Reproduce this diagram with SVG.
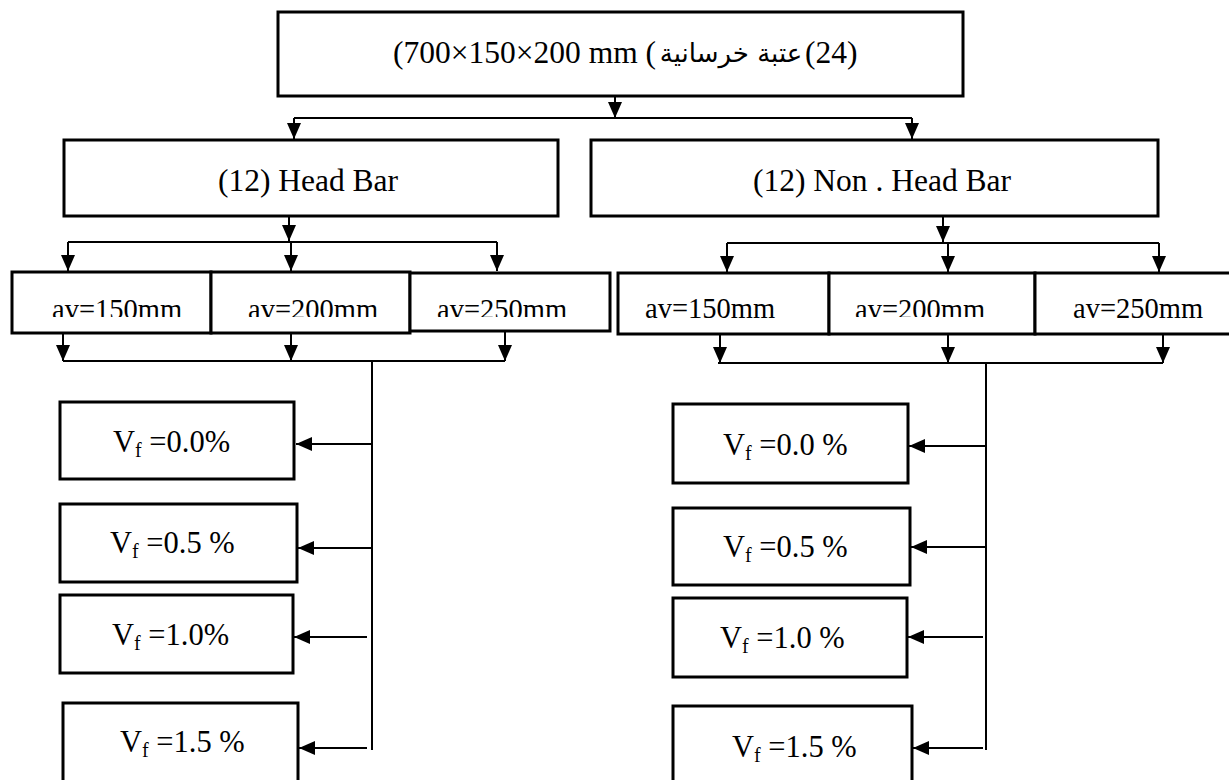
<svg xmlns="http://www.w3.org/2000/svg" width="1229" height="780" viewBox="0 0 1229 780">
<style>
.box{fill:#fff;stroke:#000;stroke-width:3}
.ln{fill:none;stroke:#000;stroke-width:2}
.arr{fill:none;stroke:#000;stroke-width:2;marker-end:url(#ah)}
.t{font-family:"Liberation Serif","Times New Roman",serif;fill:#000}
.big{font-size:31.5px}
.av{font-size:28.5px}
.vf{font-size:30.5px}
.sub{font-size:20px}
.ar{font-family:"DejaVu Sans",sans-serif;font-size:26px;fill:#000}
</style>
<defs>
<marker id="ah" markerUnits="userSpaceOnUse" markerWidth="16" markerHeight="14" viewBox="0 0 16 14" refX="16" refY="7" orient="auto">
<path d="M0,0 L16,7 L0,14 z" fill="#000"/>
</marker>
<clipPath id="clipav"><rect x="0" y="276" width="1229" height="41"/></clipPath>
</defs>
<rect width="1229" height="780" fill="#fff"/>

<g id="connectors">
<path class="arr" d="M615,96 V118"/>
<path class="ln" d="M294,118 H912"/>
<path class="arr" d="M294,118 V139"/>
<path class="arr" d="M912,118 V139"/>

<path class="arr" d="M289,216 V241"/>
<path class="ln" d="M68,242 H497"/>
<path class="arr" d="M68,242 V271"/>
<path class="arr" d="M291,242 V271"/>
<path class="arr" d="M497,242 V271"/>

<path class="arr" d="M943,216 V242"/>
<path class="ln" d="M727,243 H1159"/>
<path class="arr" d="M727,243 V272"/>
<path class="arr" d="M948,243 V272"/>
<path class="arr" d="M1159,243 V272"/>

<path class="arr" d="M63,334 V361"/>
<path class="arr" d="M291,334 V361"/>
<path class="arr" d="M505,332 V361"/>
<path class="ln" d="M63,361 H505"/>
<path class="ln" d="M372,361 V750"/>
<path class="arr" d="M372,444 H296"/>
<path class="arr" d="M372,548 H298"/>
<path class="arr" d="M367,637 H294"/>
<path class="arr" d="M367,748 H299"/>

<path class="arr" d="M720,335 V363"/>
<path class="arr" d="M948,335 V363"/>
<path class="arr" d="M1163,335 V363"/>
<path class="ln" d="M718,363 H1163"/>
<path class="ln" d="M986,363 V750"/>
<path class="arr" d="M986,446 H909"/>
<path class="arr" d="M986,547 H911"/>
<path class="arr" d="M983,637 H908"/>
<path class="arr" d="M983,748 H913"/>
</g>

<g id="top">
<rect class="box" x="278" y="12" width="685" height="84"/>
<text class="t big" x="393" y="63">(700×150×200 mm (</text>
<text class="ar" x="731" y="62" text-anchor="middle">عتبة خرسانية</text>
<text class="t big" x="805" y="63">(24)</text>
</g>

<g id="headbar">
<rect class="box" x="64" y="140" width="494" height="76"/>
<text class="t big" x="308" y="191" text-anchor="middle">(12) Head Bar</text>
</g>

<g id="nonheadbar">
<rect class="box" x="591" y="140" width="567" height="76"/>
<text class="t big" x="882" y="191" text-anchor="middle">(12) Non . Head Bar</text>
</g>

<g id="hb-av150">
<rect class="box" x="12" y="272" width="199" height="61"/>
<text class="t av" x="52" y="319" clip-path="url(#clipav)">av=150mm</text>
</g>
<g id="hb-av200">
<rect class="box" x="211" y="272" width="199" height="61"/>
<text class="t av" x="248" y="319" clip-path="url(#clipav)">av=200mm</text>
</g>
<g id="hb-av250">
<rect class="box" x="410" y="273" width="200" height="58"/>
<text class="t av" x="437" y="319" clip-path="url(#clipav)">av=250mm</text>
</g>

<g id="nhb-av150">
<rect class="box" x="618" y="273" width="211" height="61"/>
<text class="t av" x="645" y="318">av=150mm</text>
</g>
<g id="nhb-av200">
<rect class="box" x="829" y="273" width="206" height="61"/>
<text class="t av" x="855" y="319" clip-path="url(#clipav)">av=200mm</text>
</g>
<g id="nhb-av250">
<rect class="box" x="1035" y="273" width="200" height="61"/>
<text class="t av" x="1073" y="318">av=250mm</text>
</g>

<g id="hb-vf00">
<rect class="box" x="60" y="402" width="234" height="77"/>
<text class="t vf" x="113" y="452">V<tspan class="sub" dy="5">f</tspan><tspan dy="-5"> =0.0%</tspan></text>
</g>
<g id="hb-vf05">
<rect class="box" x="60" y="504" width="237" height="78"/>
<text class="t vf" x="110" y="553">V<tspan class="sub" dy="5">f</tspan><tspan dy="-5"> =0.5 %</tspan></text>
</g>
<g id="hb-vf10">
<rect class="box" x="60" y="595" width="233" height="78"/>
<text class="t vf" x="112" y="645">V<tspan class="sub" dy="5">f</tspan><tspan dy="-5"> =1.0%</tspan></text>
</g>
<g id="hb-vf15">
<rect class="box" x="63" y="703" width="235" height="85"/>
<text class="t vf" x="120" y="752">V<tspan class="sub" dy="5">f</tspan><tspan dy="-5"> =1.5 %</tspan></text>
</g>

<g id="nhb-vf00">
<rect class="box" x="673" y="404" width="235" height="79"/>
<text class="t vf" x="723" y="455">V<tspan class="sub" dy="5">f</tspan><tspan dy="-5"> =0.0 %</tspan></text>
</g>
<g id="nhb-vf05">
<rect class="box" x="673" y="508" width="237" height="77"/>
<text class="t vf" x="723" y="557">V<tspan class="sub" dy="5">f</tspan><tspan dy="-5"> =0.5 %</tspan></text>
</g>
<g id="nhb-vf10">
<rect class="box" x="673" y="598" width="234" height="79"/>
<text class="t vf" x="720" y="648">V<tspan class="sub" dy="5">f</tspan><tspan dy="-5"> =1.0 %</tspan></text>
</g>
<g id="nhb-vf15">
<rect class="box" x="673" y="706" width="239" height="85"/>
<text class="t vf" x="732" y="757">V<tspan class="sub" dy="5">f</tspan><tspan dy="-5"> =1.5 %</tspan></text>
</g>
</svg>
